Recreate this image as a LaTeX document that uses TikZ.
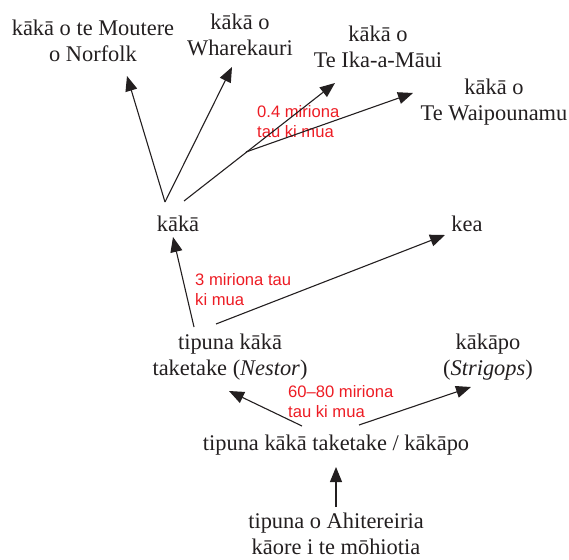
\documentclass[tikz,border=0pt]{standalone}
\usepackage{fontspec}
\setmainfont{Liberation Serif}
\newfontfamily\redfont{Liberation Sans}
\usetikzlibrary{arrows.meta}
\definecolor{lblred}{RGB}{237,28,36}
\definecolor{ink}{RGB}{35,31,32}
\begin{document}
\begin{tikzpicture}[x=1pt,y=-1pt,
  taxon/.style={align=center,inner sep=0pt,text=ink,font=\fontsize{22.4}{26}\selectfont},
  datelbl/.style={align=left,inner sep=0pt,anchor=west,text=lblred,font=\redfont\fontsize{16.6}{20}\selectfont},
  link/.style={draw=ink,line width=1.1pt,-{Triangle[length=15pt,width=12pt]}},
  plain/.style={draw=ink,line width=1.1pt}]
\useasboundingbox (0,0) rectangle (569,559);

% taxa
\node[taxon] (norfolk) at (93,41) {kākā o te Moutere\\o Norfolk};
\node[taxon] (whare) at (240,35) {kākā o\\Wharekauri};
\node[taxon] (ika) at (378,47) {kākā o\\Te Ika-a-Māui};
\node[taxon] (waip) at (494,102) {kākā o\\Te Waipounamu};
\node[taxon] (kaka) at (178,224) {kākā};
\node[taxon] (kea) at (467,224) {kea};
\node[taxon] (nestor) at (230,357) {tipuna kākā\\taketake (\textit{Nestor})};
\node[taxon] (strig) at (488,357) {kākāpo\\(\textit{Strigops})};
\node[taxon] (mid) at (336,445) {tipuna kākā taketake / kākāpo};
\node[taxon] (root) at (336,534) {tipuna o Ahitereiria\\kāore i te mōhiotia};

% date labels
\node[datelbl] (d04) at (257,122) {0.4 miriona\\tau ki mua};
\node[datelbl] (d3) at (195,290) {3 miriona tau\\ki mua};
\node[datelbl] (d60) at (288,402) {60–80 miriona\\tau ki mua};

% connector end points
\coordinate (rootT) at (336,507);
\coordinate (midB) at (336,467);
\coordinate (midL) at (302,426);
\coordinate (nestorB) at (229,391);
\coordinate (midR) at (359,425);
\coordinate (strigB) at (471,387);
\coordinate (nestorTL) at (194,327);
\coordinate (kakaB) at (173,237);
\coordinate (nestorTR) at (216,324);
\coordinate (keaB) at (445,235);
\coordinate (kakaTL) at (165,202);
\coordinate (norfolkB) at (127,76);
\coordinate (whareB) at (232,67);
\coordinate (kakaTR) at (184,201);
\coordinate (branch) at (246,152);
\coordinate (ikaB) at (335,83);
\coordinate (waipB) at (413,93);

% connectors
\draw[link] (rootT) -- (midB);
\draw[link] (midL) -- (nestorB);
\draw[link] (midR) -- (strigB);
\draw[link] (nestorTL) -- (kakaB);
\draw[link] (nestorTR) -- (keaB);
\draw[link] (kakaTL) -- (norfolkB);
\draw[link] (kakaTL) -- (whareB);
\draw[link] (kakaTR) -- (ikaB);
\draw[link] (branch) -- (waipB);
\end{tikzpicture}
\end{document}
